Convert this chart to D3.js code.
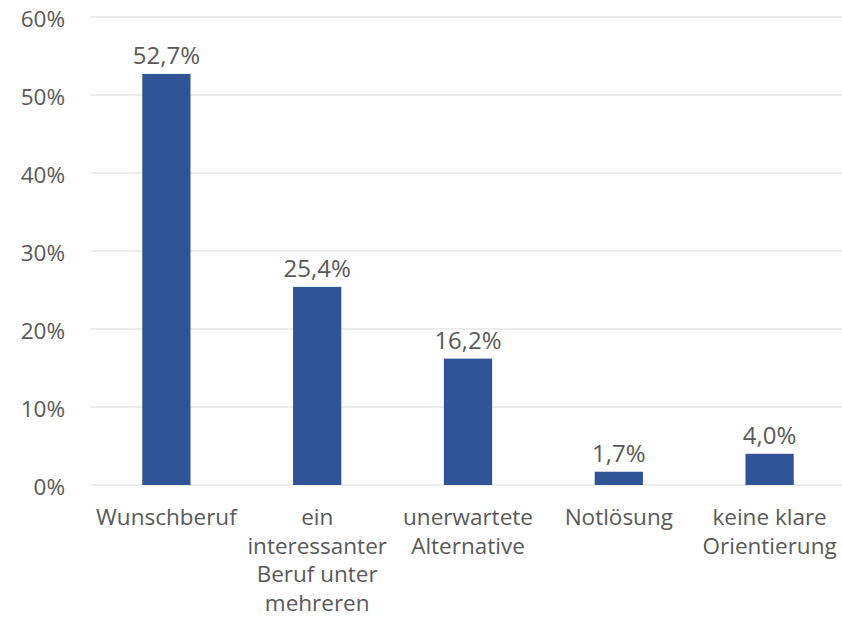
<!DOCTYPE html>
<html>
<head>
<meta charset="utf-8">
<script src="https://cdn.jsdelivr.net/npm/d3@7"></script>
<style>
  body { margin: 0; background: #fff; }
  text { font-family: "Open Sans", "Noto Sans", sans-serif; fill: #595959; }
</style>
</head>
<body>
<div id="chart"></div>
<script>
const categories = [
  ['Wunschberuf'],
  ['ein', 'interessanter', 'Beruf unter', 'mehreren'],
  ['unerwartete', 'Alternative'],
  ['Notlösung'],
  ['keine klare', 'Orientierung']
];
const values = [52.7, 25.4, 16.2, 1.7, 4.0];
const yTicks = [0, 10, 20, 30, 40, 50, 60];

const width = 842;
const height = 617;
const margin = { top: 17, bottom: 132, left: 91, right: -3 };

const svg = d3.select('#chart')
  .append('svg')
  .attr('width', width)
  .attr('height', height)
  .attr('viewBox', [0, 0, width, height]);

const keys = categories.map((c, i) => i);

const x = d3.scaleBand()
  .domain(keys)
  .range([margin.left, width - margin.right])
  .paddingInner(0.68)
  .paddingOuter(0.34);

const y = d3.scaleLinear()
  .domain([0, 60])
  .range([height - margin.bottom, margin.top]);

// gridlines
svg.append('g')
  .selectAll('line')
  .data(yTicks)
  .join('line')
  .attr('x1', margin.left)
  .attr('x2', width - margin.right)
  .attr('y1', d => y(d))
  .attr('y2', d => y(d))
  .attr('stroke', '#d9d9d9')
  .attr('stroke-width', 1);

// y labels
svg.append('g')
  .selectAll('text')
  .data(yTicks)
  .join('text')
  .attr('x', 65)
  .attr('y', d => y(d) + 2)
  .attr('dy', '0.35em')
  .attr('text-anchor', 'end')
  .attr('font-size', '22.5px')
  .text(d => d + '%');

// bars
svg.append('g')
  .attr('fill', '#2f5597')
  .selectAll('rect')
  .data(values)
  .join('rect')
  .attr('x', (d, i) => x(i))
  .attr('y', d => y(d))
  .attr('width', x.bandwidth())
  .attr('height', d => y(0) - y(d));

// value labels
svg.append('g')
  .selectAll('text')
  .data(values)
  .join('text')
  .attr('x', (d, i) => x(i) + x.bandwidth() / 2)
  .attr('y', d => y(d) - 10)
  .attr('text-anchor', 'middle')
  .attr('font-size', '24px')
  .text(d => d.toFixed(1).replace('.', ',') + '%');

// category labels
const cat = svg.append('g')
  .selectAll('text')
  .data(categories)
  .join('text')
  .attr('x', (d, i) => x(i) + x.bandwidth() / 2)
  .attr('y', y(0) + 40)
  .attr('text-anchor', 'middle')
  .attr('font-size', '22.5px');

cat.selectAll('tspan')
  .data(d => d)
  .join('tspan')
  .attr('x', function() { return this.parentNode.getAttribute('x'); })
  .attr('dy', (d, i) => i === 0 ? 0 : 28.7)
  .text(d => d);
</script>
</body>
</html>
